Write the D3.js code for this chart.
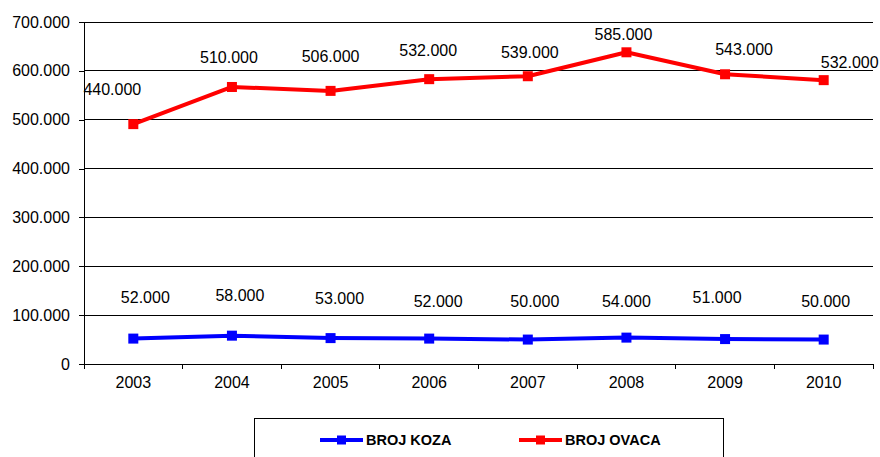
<!DOCTYPE html>
<html>
<head>
<meta charset="utf-8">
<script src="https://cdn.jsdelivr.net/npm/d3@7"></script>
<style>
  body { margin: 0; background: #fff; }
  svg { font-family: "Liberation Sans", Arial, sans-serif; }
</style>
</head>
<body>
<svg id="chart"></svg>
<script>
// Data
const years = ["2003", "2004", "2005", "2006", "2007", "2008", "2009", "2010"];
// plotted values (the points in the picture)
const ovce = [491000, 567000, 559000, 583000, 589000, 638000, 593000, 581000];
const koze = [52000, 58000, 53000, 52000, 50000, 54000, 51000, 50000];
// label text as printed beside the points
const ovceLabels = ["440.000", "510.000", "506.000", "532.000", "539.000", "585.000", "543.000", "532.000"];
const kozeLabels = ["52.000", "58.000", "53.000", "52.000", "50.000", "54.000", "51.000", "50.000"];
const yTicks = [0, 100000, 200000, 300000, 400000, 500000, 600000, 700000];

// label nudges (layout only), [dx, dy] from the point
const ovceNudge = [[-21, -35], [-3, -30], [0, -34], [-1, -29], [2, -24], [-3, -18], [19, -25], [26, -18]];
const kozeNudge = [[12, -41], [8, -40], [9, -40], [9, -37], [7, -38], [0, -36], [-8, -42], [2, -38]];

const width = 880, height = 457;
const mLeft = 84, mRight = 873, mTop = 22, mBottom = 364;
const fontSize = "16px";

const svg = d3.select("#chart").attr("width", width).attr("height", height);

const x = d3.scaleBand().domain(years).range([mLeft, mRight]);
const y = d3.scaleLinear().domain([0, 700000]).range([mBottom, mTop]);

const fmt = v => v === 0 ? "0" : d3.format(",")(v).replace(/,/g, ".");

// gridlines
svg.append("g")
  .selectAll("line")
  .data(yTicks.filter(d => d > 0))
  .join("line")
  .attr("x1", mLeft).attr("x2", mRight)
  .attr("y1", d => y(d)).attr("y2", d => y(d))
  .attr("stroke", "#000").attr("stroke-width", 1).attr("shape-rendering", "crispEdges");

// y axis
const yAxis = svg.append("g")
  .attr("transform", `translate(${mLeft},0)`)
  .call(d3.axisLeft(y).tickValues(yTicks).tickFormat(fmt).tickSize(5).tickPadding(9));
yAxis.selectAll("text").attr("font-size", fontSize).attr("fill", "#000").attr("font-family", null);
yAxis.selectAll("line, path").attr("stroke", "#000").attr("shape-rendering", "crispEdges");
yAxis.select(".domain").attr("d", `M0,${mTop}V${mBottom}`);

// x axis with ticks at band boundaries
const xAxis = svg.append("g").attr("transform", `translate(0,${mBottom})`);
xAxis.append("line")
  .attr("x1", mLeft).attr("x2", mRight)
  .attr("stroke", "#000").attr("shape-rendering", "crispEdges");
xAxis.selectAll(".tk")
  .data(years.concat(["end"]))
  .join("line")
  .attr("class", "tk")
  .attr("x1", (d, i) => mLeft + i * x.bandwidth())
  .attr("x2", (d, i) => mLeft + i * x.bandwidth())
  .attr("y1", 0).attr("y2", 5)
  .attr("stroke", "#000").attr("shape-rendering", "crispEdges");
xAxis.selectAll("text")
  .data(years)
  .join("text")
  .attr("x", d => x(d) + x.bandwidth() / 2)
  .attr("y", 24)
  .attr("text-anchor", "middle")
  .attr("font-size", fontSize)
  .text(d => d);

const line = d3.line()
  .x((d, i) => x(years[i]) + x.bandwidth() / 2)
  .y(d => y(d));

function drawSeries(values, labels, nudge, color) {
  const g = svg.append("g");
  g.append("path")
    .datum(values)
    .attr("d", line)
    .attr("fill", "none")
    .attr("stroke", color)
    .attr("stroke-width", 4)
    .attr("stroke-linejoin", "round");
  g.selectAll("rect")
    .data(values)
    .join("rect")
    .attr("x", (d, i) => x(years[i]) + x.bandwidth() / 2 - 5)
    .attr("y", d => y(d) - 5)
    .attr("width", 10).attr("height", 10)
    .attr("fill", color);
  g.selectAll("text")
    .data(values)
    .join("text")
    .attr("x", (d, i) => x(years[i]) + x.bandwidth() / 2 + nudge[i][0])
    .attr("y", (d, i) => y(d) + nudge[i][1])
    .attr("dy", "0.35em")
    .attr("text-anchor", "middle")
    .attr("font-size", fontSize)
    .text((d, i) => labels[i]);
}

drawSeries(ovce, ovceLabels, ovceNudge, "#ff0000");
drawSeries(koze, kozeLabels, kozeNudge, "#0000ff");

// legend
const legend = svg.append("g");
legend.append("rect")
  .attr("x", 254.5).attr("y", 418.5)
  .attr("width", 469).attr("height", 60)
  .attr("fill", "#fff").attr("stroke", "#000");

const legendItems = [
  { name: "BROJ KOZA", color: "#0000ff", x: 320 },
  { name: "BROJ OVACA", color: "#ff0000", x: 519 }
];
const li = legend.selectAll(".item")
  .data(legendItems)
  .join("g")
  .attr("class", "item")
  .attr("transform", d => `translate(${d.x},440)`);
li.append("line")
  .attr("x1", 0).attr("x2", 43)
  .attr("stroke", d => d.color).attr("stroke-width", 4);
li.append("rect")
  .attr("x", 17).attr("y", -4.5).attr("width", 9).attr("height", 9)
  .attr("fill", d => d.color);
li.append("text")
  .attr("x", 46).attr("dy", "0.35em")
  .attr("font-size", "14.5px").attr("font-weight", "bold")
  .text(d => d.name);
</script>
</body>
</html>
